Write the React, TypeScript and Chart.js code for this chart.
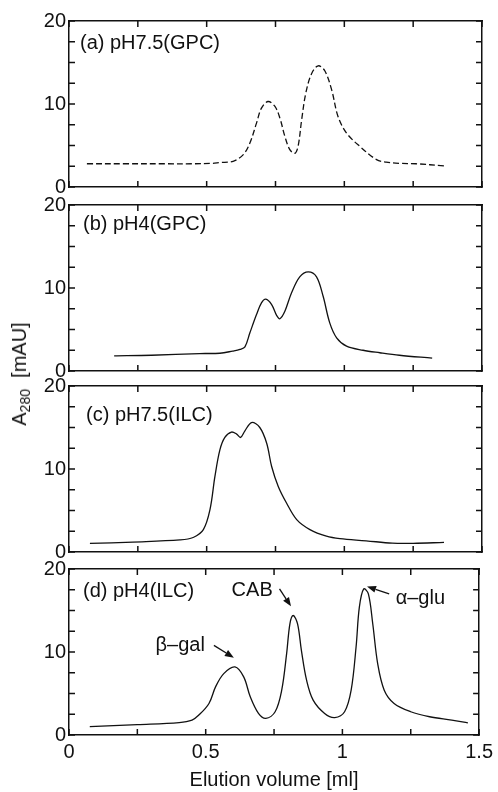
import React, { useEffect, useRef } from 'react';
import { Chart, registerables } from 'chart.js';

Chart.register(...registerables);

// ---------------- data ----------------
const X_MIN = 0;
const X_MAX = 1.5;
const Y_MIN = 0;
const Y_MAX = 20;
const X_STEP = 0.25;
const Y_STEP = 2.5;
const X_LABELED = [0, 0.5, 1, 1.5];
const Y_LABELED = [0, 10, 20];
const X_TITLE = 'Elution volume [ml]';

const panelLabels = ['(a) pH7.5(GPC)', '(b) pH4(GPC)', '(c) pH7.5(ILC)', '(d) pH4(ILC)'];

const aX = [0.065, 0.2, 0.35, 0.45, 0.52, 0.548, 0.596, 0.633, 0.657, 0.681, 0.699, 0.723, 0.748, 0.766, 0.784, 0.802, 0.82, 0.832, 0.845, 0.86, 0.881, 0.905, 0.929, 0.954, 0.977, 1.008, 1.056, 1.117, 1.152, 1.2, 1.26, 1.362];
const aY = [2.8, 2.8, 2.8, 2.8, 2.85, 2.95, 3.1, 3.9, 5.3, 7.7, 9.5, 10.3, 9.7, 8.3, 6.1, 4.5, 4.05, 4.9, 8.1, 11.3, 13.65, 14.6, 14.0, 11.7, 8.5, 6.5, 4.9, 3.3, 3.0, 2.85, 2.8, 2.55];

const bX = [0.164, 0.3, 0.475, 0.548, 0.594, 0.621, 0.639, 0.657, 0.681, 0.699, 0.715, 0.736, 0.754, 0.766, 0.784, 0.808, 0.838, 0.869, 0.899, 0.923, 0.947, 0.972, 1.008, 1.068, 1.129, 1.2, 1.319];
const bY = [1.82, 1.9, 2.1, 2.14, 2.4, 2.6, 2.9, 4.6, 6.8, 8.2, 8.65, 8.0, 6.7, 6.3, 7.2, 9.4, 11.35, 11.95, 11.35, 9.0, 5.8, 4.0, 3.0, 2.5, 2.2, 1.9, 1.55];

const cX = [0.076, 0.232, 0.403, 0.451, 0.488, 0.512, 0.53, 0.548, 0.566, 0.59, 0.609, 0.623, 0.639, 0.663, 0.693, 0.718, 0.736, 0.76, 0.79, 0.827, 0.875, 0.935, 0.984, 1.079, 1.174, 1.25, 1.362];
const cY = [1.03, 1.2, 1.45, 1.75, 2.7, 5.1, 9.1, 12.3, 13.8, 14.45, 14.2, 13.8, 14.6, 15.6, 15.0, 13.1, 10.3, 7.9, 5.9, 3.9, 2.7, 1.9, 1.6, 1.35, 1.07, 1.05, 1.15];

const dX = [0.076, 0.25, 0.403, 0.45, 0.475, 0.512, 0.536, 0.566, 0.607, 0.639, 0.663, 0.693, 0.72, 0.754, 0.778, 0.796, 0.808, 0.82, 0.836, 0.85, 0.869, 0.893, 0.935, 0.972, 1.008, 1.032, 1.05, 1.062, 1.078, 1.095, 1.111, 1.129, 1.153, 1.189, 1.25, 1.319, 1.4, 1.459];
const dY = [1.0, 1.25, 1.5, 1.8, 2.4, 3.8, 5.8, 7.4, 8.2, 7.0, 4.6, 2.6, 2.0, 2.8, 5.4, 9.8, 13.4, 14.4, 13.4, 10.2, 6.6, 4.2, 2.6, 2.1, 2.8, 5.4, 10.6, 15.4, 17.6, 17.0, 13.4, 8.6, 5.4, 3.8, 2.8, 2.2, 1.8, 1.47];

const seriesX = [aX, bX, cX, dX];
const seriesY = [aY, bY, cY, dY];
const dashedPanel = [true, false, false, false];

// annotations on panel (d), in data coordinates
const noteTexts = ['\u03b2\u2013gal', 'CAB', '\u03b1\u2013glu'];
const noteX = [0.407, 0.67, 1.285];
const noteY = [10.8, 17.4, 16.4];
const arrowFromX = [0.53, 0.77, 1.171];
const arrowFromY = [10.8, 17.6, 17.0];
const arrowToX = [0.603, 0.812, 1.09];
const arrowToY = [9.3, 15.5, 17.9];

// ---------------- layout ----------------
const W = 498;
const H = 792;
const PLOT_LEFT = 69;
const PLOT_RIGHT = 482;
const PANEL_TOP = [20, 204, 385, 568];
const PANEL_BOTTOM = [188, 372, 553, 735];
const LABEL_OFF = [
  { dx: 11, dy: 22 },
  { dx: 14, dy: 19 },
  { dx: 17, dy: 29 },
  { dx: 14, dy: 22 },
];
const TICK_LEN = 6;
const FONT = '"Liberation Sans", Arial, Helvetica, sans-serif';
const INK = '#111';

function Panel({ index }: { index: number }) {
  const ref = useRef<HTMLCanvasElement | null>(null);
  const top = PANEL_TOP[index];
  const bottom = PANEL_BOTTOM[index];
  const isLast = index === 3;
  const canvasTop = top - 14;
  const canvasBottom = isLast ? H : bottom + 14;
  const ch = canvasBottom - canvasTop;

  useEffect(() => {
    const canvas = ref.current;
    if (!canvas) return;
    const data = seriesX[index].map((x, i) => ({ x, y: seriesY[index][i] }));

    const textPlugin = {
      id: 'panelText',
      afterDraw(chart: any) {
        const ctx = chart.ctx;
        const area = chart.chartArea;
        const xs = chart.scales.x;
        const ys = chart.scales.y;
        ctx.save();
        // inward tick marks on all four sides
        ctx.strokeStyle = INK;
        ctx.lineWidth = 1.5;
        ctx.setLineDash([]);
        ctx.beginPath();
        xs.ticks.forEach((t: any) => {
          const px = xs.getPixelForValue(t.value);
          ctx.moveTo(px, area.bottom);
          ctx.lineTo(px, area.bottom - TICK_LEN);
          ctx.moveTo(px, area.top);
          ctx.lineTo(px, area.top + TICK_LEN);
        });
        ys.ticks.forEach((t: any) => {
          const py = ys.getPixelForValue(t.value);
          ctx.moveTo(area.left, py);
          ctx.lineTo(area.left + TICK_LEN, py);
          ctx.moveTo(area.right, py);
          ctx.lineTo(area.right - TICK_LEN, py);
        });
        ctx.stroke();

        ctx.fillStyle = INK;
        ctx.font = `20px ${FONT}`;
        ctx.textAlign = 'left';
        ctx.textBaseline = 'middle';
        ctx.fillText(panelLabels[index], area.left + LABEL_OFF[index].dx, area.top + LABEL_OFF[index].dy);
        if (isLast) {
          ctx.textAlign = 'center';
          noteTexts.forEach((t, i) => {
            ctx.fillText(t, xs.getPixelForValue(noteX[i]), ys.getPixelForValue(noteY[i]));
          });
          ctx.lineWidth = 1.3;
          arrowFromX.forEach((fx, i) => {
            const x1 = xs.getPixelForValue(fx);
            const y1 = ys.getPixelForValue(arrowFromY[i]);
            const x2 = xs.getPixelForValue(arrowToX[i]);
            const y2 = ys.getPixelForValue(arrowToY[i]);
            const ang = Math.atan2(y2 - y1, x2 - x1);
            const hl = 9;
            const hw = 3.5;
            const bx = x2 - hl * Math.cos(ang);
            const by = y2 - hl * Math.sin(ang);
            ctx.beginPath();
            ctx.moveTo(x1, y1);
            ctx.lineTo(bx, by);
            ctx.stroke();
            ctx.beginPath();
            ctx.moveTo(x2, y2);
            ctx.lineTo(bx + hw * Math.sin(ang), by - hw * Math.cos(ang));
            ctx.lineTo(bx - hw * Math.sin(ang), by + hw * Math.cos(ang));
            ctx.closePath();
            ctx.fill();
          });
        }
        ctx.restore();
      },
    };

    const grid = { display: false, drawOnChartArea: false, drawTicks: false };
    const border = { display: true, color: INK, width: 1.5 };
    const font = { family: FONT, size: 20 };

    const chart = new Chart(canvas, {
      type: 'line',
      data: {
        datasets: [
          {
            data,
            borderColor: INK,
            borderWidth: 1.3,
            borderDash: dashedPanel[index] ? [6, 3] : [],
            pointRadius: 0,
            fill: false,
            tension: 0.35,
          },
        ],
      },
      options: {
        animation: false,
        responsive: false,
        devicePixelRatio: 1,
        layout: { padding: 0 },
        plugins: { legend: { display: false }, tooltip: { enabled: false }, title: { display: false } },
        scales: {
          x: {
            type: 'linear',
            position: 'bottom',
            min: X_MIN,
            max: X_MAX,
            grid,
            border,
            ticks: {
              display: isLast,
              stepSize: X_STEP,
              autoSkip: false,
              maxRotation: 0,
              minRotation: 0,
              padding: 5,
              color: INK,
              font,
              callback: (v: any) => (X_LABELED.some((l) => Math.abs(l - v) < 1e-6) ? String(v) : ''),
            },
            title: {
              display: isLast,
              text: X_TITLE,
              color: INK,
              font,
              padding: { top: 0, bottom: 0 },
            },
            afterFit: (s: any) => {
              s.height = canvasBottom - bottom;
            },
          },
          x2: {
            type: 'linear',
            position: 'top',
            min: X_MIN,
            max: X_MAX,
            grid,
            border,
            ticks: { display: false, stepSize: X_STEP, autoSkip: false },
            afterFit: (s: any) => {
              s.height = top - canvasTop;
            },
          },
          y: {
            type: 'linear',
            position: 'left',
            min: Y_MIN,
            max: Y_MAX,
            grid,
            border,
            ticks: {
              stepSize: Y_STEP,
              autoSkip: false,
              padding: 3,
              color: INK,
              font,
              callback: (v: any) => (Y_LABELED.some((l) => Math.abs(l - v) < 1e-6) ? String(v) : ''),
            },
            afterFit: (s: any) => {
              s.width = PLOT_LEFT;
            },
          },
          y2: {
            type: 'linear',
            position: 'right',
            min: Y_MIN,
            max: Y_MAX,
            grid,
            border,
            ticks: { display: false, stepSize: Y_STEP, autoSkip: false },
            afterFit: (s: any) => {
              s.width = W - PLOT_RIGHT;
            },
          },
        },
      } as any,
      plugins: [textPlugin],
    });
    return () => chart.destroy();
  }, [index]);

  return (
    <canvas
      ref={ref}
      width={W}
      height={ch}
      style={{ position: 'absolute', left: 0, top: canvasTop, width: W, height: ch }}
    />
  );
}

export default function App() {
  return (
    <div
      style={{
        position: 'fixed',
        left: 0,
        top: 0,
        width: W,
        height: H,
        background: '#fff',
        overflow: 'hidden',
      }}
    >
      {[0, 1, 2, 3].map((i) => (
        <Panel key={i} index={i} />
      ))}
      <div
        style={{
          position: 'absolute',
          left: 20,
          top: 374,
          transform: 'translate(-50%, -50%) rotate(-90deg)',
          fontFamily: FONT,
          fontSize: 20,
          lineHeight: '24px',
          whiteSpace: 'nowrap',
          color: INK,
        }}
      >
        A<span style={{ fontSize: 14, position: 'relative', top: 4 }}>280</span>
        {'\u00a0\u00a0'}[mAU]
      </div>
    </div>
  );
}
